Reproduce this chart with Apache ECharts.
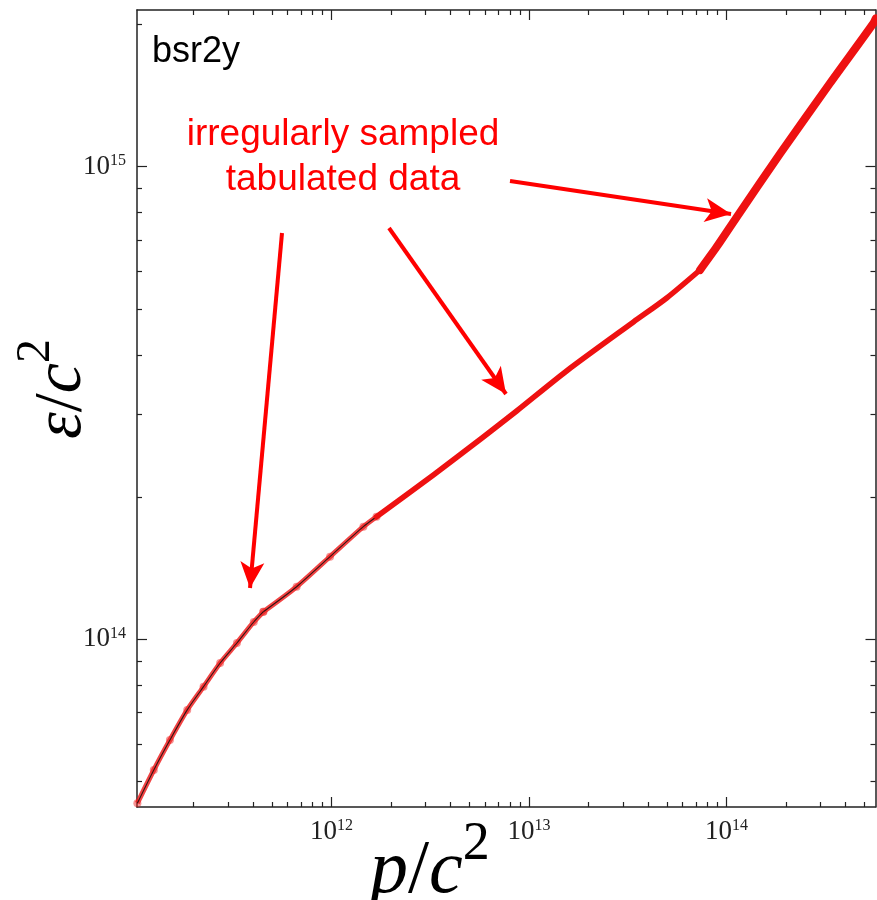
<!DOCTYPE html>
<html><head><meta charset="utf-8">
<script src="https://cdn.jsdelivr.net/npm/echarts@6/dist/echarts.min.js"></script>
<style>html,body{margin:0;padding:0;background:#fff}#c{width:877px;height:900px}</style>
</head><body><div id="c"></div>
<script>
// ---- data ----
const pressure = [1.04e11, 1.26e11, 1.52e11, 1.86e11, 2.25e11, 2.73e11, 3.32e11, 4.04e11, 4.52e11, 6.66e11,
  9.83e11, 1.45e12, 1.69e12, 3.28e12, 5.87e12, 8.66e12, 1.55e13, 3.38e13, 4.98e13, 7.34e13,
  8.92e13, 1.13e14, 1.87e14, 3.34e14, 5.54e14, 5.70e14];
const energy = [4.50e13, 5.29e13, 6.12e13, 7.09e13, 7.94e13, 8.91e13, 9.82e13, 1.088e14, 1.144e14, 1.292e14,
  1.496e14, 1.731e14, 1.817e14, 2.227e14, 2.68e14, 3.042e14, 3.697e14, 4.693e14, 5.275e14, 6.045e14,
  6.77e14, 7.84e14, 1.066e15, 1.502e15, 2.011e15, 2.06e15];
const kinkAt = [4.52e11, 7.34e13];   // slope breaks of the curve
const sparseLimit = 1.69e12;         // tabulated points still visible as separate dots below this
const thickFrom = 7.34e13;           // band gets thicker above this pressure

const xMajorTicks = [1e12, 1e13, 1e14];
const xMinorTicks = [2e11,3e11,4e11,5e11,6e11,7e11,8e11,9e11,
  2e12,3e12,4e12,5e12,6e12,7e12,8e12,9e12,
  2e13,3e13,4e13,5e13,6e13,7e13,8e13,9e13,
  2e14,3e14,4e14,5e14];
const yMajorTicks = [1e14, 1e15];
const yMinorTicks = [5e13,6e13,7e13,8e13,9e13,
  2e14,3e14,4e14,5e14,6e14,7e14,8e14,9e14, 2e15];
const xRange = [1.0356e11, 5.68e14];
const yRange = [4.417e13, 2.146e15];

const arrows = [
  [[5.615e11, 7.239e14], [3.867e11, 1.284e14]],
  [[1.955e12, 7.418e14], [7.647e12, 3.304e14]],
  [[8.013e12, 9.326e14], [1.054e14, 7.94e14]]
];
const panelLabel = 'bsr2y';
const noteLines = ['irregularly sampled', 'tabulated data'];

// ---- build ----
const pts = pressure.map((p, i) => [p, energy[i]]);
const inRange = (a, b) => pts.filter(d => d[0] >= a && d[0] <= b);
const fitSegs = [inRange(0, kinkAt[0]), inRange(kinkAt[0], kinkAt[1]), inRange(kinkAt[1], Infinity)];
const redSegs = [
  {data: inRange(0, kinkAt[0]), sparse: true, w: 5},
  {data: inRange(kinkAt[0], sparseLimit), sparse: true, w: 5},
  {data: inRange(sparseLimit, thickFrom), sparse: false, w: 5.5},
  {data: inRange(thickFrom, Infinity), sparse: false, w: 8}
];

const AX = '#222';
const serif = '"Liberation Serif", "DejaVu Serif", serif';
const rich = {
  b: {fontSize: 27, lineHeight: 27, fontFamily: serif, color: '#222'},
  s: {fontSize: 16, lineHeight: 16, fontFamily: serif, color: '#222', verticalAlign: 'top'}
};
function fmt(v) { return '{b|10}{s|' + Math.round(Math.log10(v)) + '}'; }

function axis(pos, range, ticks, len, labels, line) {
  return {
    type: 'log', logBase: 10, position: pos, min: range[0], max: range[1],
    axisLine: {show: line, lineStyle: {color: AX, width: 1.5}},
    axisTick: {show: true, inside: true, length: len, customValues: ticks, lineStyle: {color: AX, width: 1.2}},
    axisLabel: labels ? {show: true, customValues: ticks, formatter: fmt, rich: rich, margin: 11} : {show: false},
    splitLine: {show: false}, minorTick: {show: false}
  };
}

const SM = 0.25;
const series = [];
redSegs.filter(s => s.sparse).forEach(s => series.push({
  type: 'line', data: s.data, smooth: SM, showSymbol: true, symbol: 'circle', symbolSize: 8,
  itemStyle: {color: 'rgba(240,40,40,0.5)'}, lineStyle: {color: 'rgba(238,20,20,0.8)', width: s.w}, z: 1, silent: true
}));
fitSegs.forEach(d => series.push({
  type: 'line', data: d, smooth: SM, showSymbol: false,
  lineStyle: {color: 'rgba(20,10,10,0.85)', width: 1.1}, z: 2, silent: true
}));
redSegs.filter(s => !s.sparse).forEach(s => series.push({
  type: 'line', data: s.data, smooth: SM, showSymbol: false,
  lineStyle: {color: '#ee1111', width: s.w, cap: 'round', join: 'round'}, z: 3, silent: true
}));
series.push({type: 'line', data: [], silent: true,
  markLine: {silent: true, symbol: ['none', 'arrow'], symbolSize: [18, 26], animation: false,
    label: {show: false}, lineStyle: {color: '#ff0000', width: 4, type: 'solid'},
    emphasis: {disabled: true},
    data: arrows.map(a => [{coord: a[0]}, {coord: a[1]}])}});

const chart = echarts.init(document.getElementById('c'), null, {renderer: 'canvas'});
chart.setOption({
  animation: false,
  backgroundColor: '#fff',
  grid: {left: 137, top: 10, width: 738.5, height: 797, containLabel: false},
  xAxis: [
    axis('bottom', xRange, xMajorTicks, 10, true, true),
    axis('bottom', xRange, xMinorTicks, 5, false, false),
    axis('top', xRange, xMajorTicks, 10, false, true),
    axis('top', xRange, xMinorTicks, 5, false, false)
  ],
  yAxis: [
    axis('left', yRange, yMajorTicks, 10, true, true),
    axis('left', yRange, yMinorTicks, 5, false, false),
    axis('right', yRange, yMajorTicks, 10, false, true),
    axis('right', yRange, yMinorTicks, 5, false, false)
  ],
  series: series,
  graphic: [
    {type: 'text', x: 152, y: 52, style: {text: panelLabel, font: '36px "Liberation Sans", Arial, sans-serif', fill: '#000', textVerticalAlign: 'middle', verticalAlign: 'middle'}},
    {type: 'text', x: 343, y: 135, style: {text: noteLines[0], font: '37px "Liberation Sans", Arial, sans-serif', fill: '#ff0000', textAlign: 'center', align: 'center', textVerticalAlign: 'middle', verticalAlign: 'middle'}},
    {type: 'text', x: 343, y: 180, style: {text: noteLines[1], font: '37px "Liberation Sans", Arial, sans-serif', fill: '#ff0000', textAlign: 'center', align: 'center', textVerticalAlign: 'middle', verticalAlign: 'middle'}},
    {type: 'text', x: 370, y: 864, style: {text: '{i|p}{n|/}{i|c}{s|2}', textVerticalAlign: 'middle', verticalAlign: 'middle',
      rich: {i: {fontSize: 76, lineHeight: 92, fontStyle: 'italic', fontFamily: serif, color: '#000', verticalAlign: 'bottom'},
             n: {fontSize: 76, lineHeight: 92, fontFamily: serif, color: '#000', verticalAlign: 'bottom'},
             s: {fontSize: 54, lineHeight: 54, fontFamily: serif, color: '#000', verticalAlign: 'top'}}}},
    {type: 'text', x: 54, y: 389, rotation: Math.PI / 2, style: {text: '{i|ε}{n|/}{i|c}{s|2}', textAlign: 'center', align: 'center', textVerticalAlign: 'middle', verticalAlign: 'middle',
      rich: {i: {fontSize: 68, lineHeight: 84, fontStyle: 'italic', fontFamily: serif, color: '#000', verticalAlign: 'bottom'},
             n: {fontSize: 68, lineHeight: 84, fontFamily: serif, color: '#000', verticalAlign: 'bottom'},
             s: {fontSize: 48, lineHeight: 48, fontFamily: serif, color: '#000', verticalAlign: 'top'}}}}
  ]
});
</script></body></html>
